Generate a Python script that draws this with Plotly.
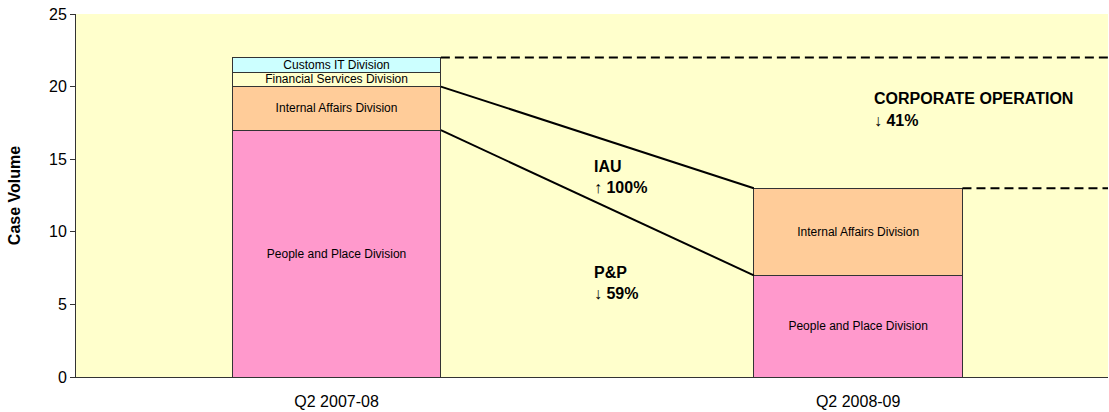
import plotly.graph_objects as go

categories = ["Q2 2007-08", "Q2 2008-09"]
people_place = [17, 7]
internal_affairs = [3, 6]
financial_services = [1, 0]
customs_it = [1, 0]

series = [
    ("People and Place Division", people_place, "#FF99CC"),
    ("Internal Affairs Division", internal_affairs, "#FFCC99"),
    ("Financial Services Division", financial_services, "#FFFFCC"),
    ("Customs IT Division", customs_it, "#CCFFFF"),
]

annotations_text = [
    ("IAU", "↑ 100%"),
    ("P&P", "↓ 59%"),
    ("CORPORATE OPERATION", "↓ 41%"),
]

xpos = [0, 1]
bw = 0.40
xmax = 1.479
font = "Liberation Sans, Arial, sans-serif"

fig = go.Figure()
for name, vals, color in series:
    fig.add_trace(go.Bar(
        x=xpos, y=vals, width=bw, name=name,
        marker=dict(color=color, line=dict(color="#333333", width=1)),
        text=[name if v > 0 else "" for v in vals],
        textposition="inside", insidetextanchor="middle",
        textfont=dict(family=font, size=12, color="#000000"),
        hoverinfo="skip",
    ))

tot = [sum(s[1][i] for s in series) for i in range(2)]
lvl1_a = people_place[0] + internal_affairs[0]
lvl1_b = people_place[1] + internal_affairs[1]
fig.add_trace(go.Scatter(x=[xpos[0] + bw/2, xpos[1] - bw/2], y=[lvl1_a, lvl1_b],
                         mode="lines", line=dict(color="black", width=2), hoverinfo="skip"))
fig.add_trace(go.Scatter(x=[xpos[0] + bw/2, xpos[1] - bw/2], y=[people_place[0], people_place[1]],
                         mode="lines", line=dict(color="black", width=2), hoverinfo="skip"))
fig.add_trace(go.Scatter(x=[xpos[0] + bw/2, xmax], y=[tot[0], tot[0]],
                         mode="lines", line=dict(color="black", width=2, dash="9px,5px"), hoverinfo="skip"))
fig.add_trace(go.Scatter(x=[xpos[1] + bw/2, xmax], y=[tot[1], tot[1]],
                         mode="lines", line=dict(color="black", width=2, dash="9px,5px"), hoverinfo="skip"))

ann_pos = [(0.494, 14.53, 13.02), (0.494, 7.23, 5.72), (1.031, 19.2, 17.7)]
anns = []
for (t1, t2), (ax, y1, y2) in zip(annotations_text, ann_pos):
    for t, yy in ((t1, y1), (t2, y2)):
        anns.append(dict(x=ax, y=yy, text=f"<b>{t}</b>", showarrow=False, xanchor="left",
                         yanchor="middle", xshift=-2,
                         font=dict(family=font, size=16, color="black")))

fig.update_layout(
    width=1109, height=412,
    margin=dict(l=76, r=1, t=14, b=35),
    barmode="stack", showlegend=False,
    plot_bgcolor="#FFFFCC", paper_bgcolor="white",
    annotations=anns,
    uniformtext=dict(minsize=12, mode="show"),
    xaxis=dict(range=[-0.4995, xmax], tickvals=xpos, ticktext=categories, showgrid=False,
               zeroline=False, showline=True, linecolor="#333333", linewidth=1,
               tickfont=dict(family=font, size=16, color="black"),
               ticks="outside", ticklen=10, tickcolor="rgba(0,0,0,0)", automargin=False),
    yaxis=dict(range=[0, 25], dtick=5, showgrid=False, zeroline=False, showline=True,
               linecolor="#333333", linewidth=1, ticks="outside", ticklen=5, tickcolor="#333333",
               tickfont=dict(family=font, size=16, color="black"), automargin=False,
               title=dict(text="<b>Case Volume</b>", font=dict(family=font, size=16, color="black"), standoff=24)),
)
fig.write_html("out.html", config={"displayModeBar": False},
               post_script="document.body.style.margin='0px';document.body.style.overflow='hidden';")
